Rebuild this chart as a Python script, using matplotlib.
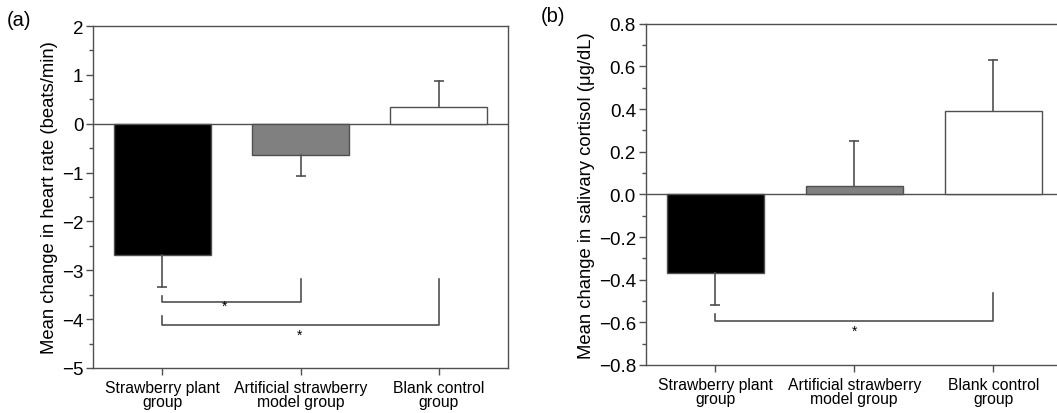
import matplotlib.pyplot as plt

plt.rcParams['font.family'] = ['Liberation Sans', 'DejaVu Sans']

groups = ['Strawberry plant\ngroup', 'Artificial strawberry\nmodel group', 'Blank control\ngroup']
colors = ['black', '#808080', 'white']

# panel (a): heart rate
hr_mean = [-2.69, -0.65, 0.34]
hr_err = [0.65, 0.43, 0.54]

# panel (b): salivary cortisol
cort_mean = [-0.37, 0.04, 0.39]
cort_err = [0.15, 0.21, 0.24]

LINE = '#505050'
pos = [1, 2, 3]


def draw_panel(ax, means, errs, ylim, major, minor, labels):
    ax.axhline(0, color=LINE, lw=1.0, zorder=1)
    ax.bar(pos, means, width=0.7, color=colors, edgecolor=LINE, linewidth=1.0, zorder=2)
    # one-sided error bars, pointing away from zero
    for x, m, e in zip(pos, means, errs):
        end = m + e if m >= 0 else m - e
        ax.plot([x, x], [m, end], color=LINE, lw=1.2, zorder=3)
        ax.plot([x], [end], marker='_', ms=7, mew=1.2, color=LINE, zorder=3)
    ax.set_xlim(0.5, 3.5)
    ax.set_ylim(*ylim)
    ax.set_xticks(pos)
    ax.set_xticklabels(groups, fontsize=11.3, linespacing=0.9)
    ax.set_yticks(major)
    ax.set_yticklabels(labels, fontsize=13.5)
    ax.set_yticks(minor, minor=True)
    ax.tick_params(axis='both', which='major', direction='out', length=5, width=1, color=LINE)
    ax.tick_params(axis='y', which='minor', direction='out', length=3, width=1, color=LINE)
    ax.tick_params(axis='x', pad=4)
    ax.tick_params(axis='y', pad=2)
    for s in ax.spines.values():
        s.set_color(LINE)
        s.set_linewidth(1.0)


def bracket(ax, x1, x2, y, yl, yr, sy, sx):
    ax.plot([x1, x1, x2, x2], [yl, y, y, yr], color=LINE, lw=1.2, zorder=3)
    ax.text(sx, sy, '*', ha='center', va='center', fontsize=10)


fig = plt.figure(figsize=(10.57, 4.14), dpi=100)

ax1 = fig.add_axes([93 / 1057, 1 - 369 / 414, 415 / 1057, 342 / 414])
draw_panel(ax1, hr_mean, hr_err, (-5, 2), range(-5, 3),
           [-4.5, -3.5, -2.5, -1.5, -0.5, 0.5, 1.5],
           ['\u22125', '\u22124', '\u22123', '\u22122', '\u22121', '0', '1', '2'])
ax1.set_ylabel('Mean change in heart rate (beats/min)', fontsize=13.3, labelpad=3)
bracket(ax1, 1, 2, -3.65, -3.52, -3.18, -3.72, 1.45)
bracket(ax1, 1, 3, -4.12, -3.93, -3.18, -4.32, 1.99)
fig.text(7 / 1057, 1 - 21 / 414, '(a)', fontsize=14.5, va='center')

ax2 = fig.add_axes([645.7 / 1057, 1 - 366 / 414, 417 / 1057, 341.3 / 414])
draw_panel(ax2, cort_mean, cort_err, (-0.8, 0.8),
           [-0.8, -0.6, -0.4, -0.2, 0.0, 0.2, 0.4, 0.6, 0.8],
           [-0.7, -0.5, -0.3, -0.1, 0.1, 0.3, 0.5, 0.7],
           ['\u22120.8', '\u22120.6', '\u22120.4', '\u22120.2', '0.0',
            '0.2', '0.4', '0.6', '0.8'])
ax2.set_ylabel('Mean change in salivary cortisol (\u03bcg/dL)', fontsize=13.3, labelpad=3)
bracket(ax2, 1, 3, -0.596, -0.56, -0.464, -0.64, 2.0)
fig.text(541 / 1057, 1 - 17 / 414, '(b)', fontsize=14.5, va='center')

fig.savefig('out.png', dpi=100)
